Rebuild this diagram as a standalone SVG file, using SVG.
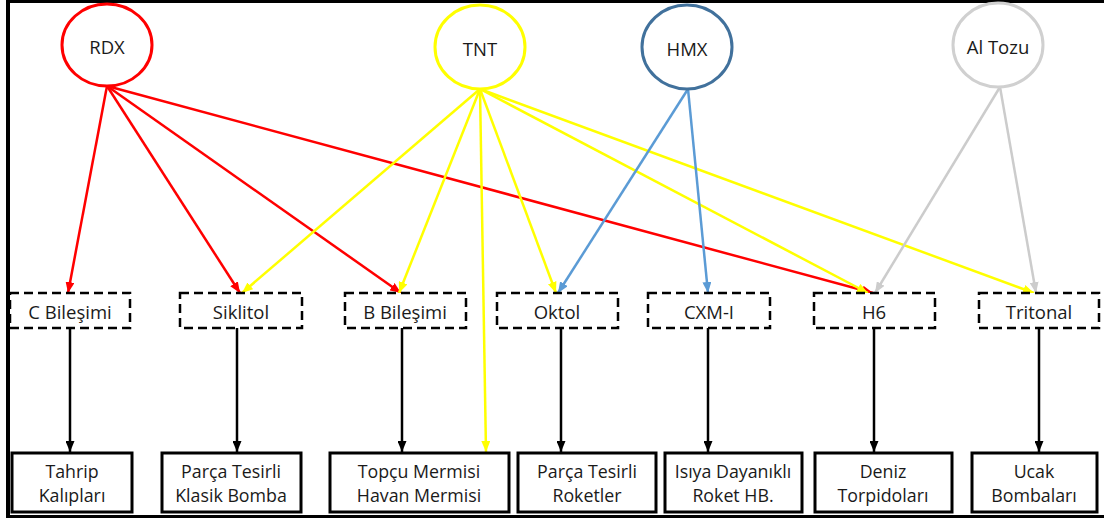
<svg xmlns="http://www.w3.org/2000/svg" width="1104" height="519" viewBox="0 0 1104 519">
<style>
text{font-family:"Open Sans","Liberation Sans",sans-serif;fill:#1a1a1a;text-anchor:middle;dominant-baseline:central}
.c{font-size:18.5px}
.m{font-size:18.5px}
.b{font-size:17.8px}
.dash{fill:#fff;stroke:#000;stroke-width:2.5;stroke-dasharray:9 5}
.solid{fill:#fff;stroke:#000;stroke-width:3}
.circ{fill:#fff;stroke-width:3}
.r{stroke:#ff0000;stroke-width:2.5;fill:none;marker-end:url(#ar)}
.y{stroke:#ffff00;stroke-width:2.5;fill:none;marker-end:url(#ay)}
.u{stroke:#5b9bd5;stroke-width:2.5;fill:none;marker-end:url(#au)}
.g{stroke:#cccccc;stroke-width:2.5;fill:none;marker-end:url(#ag)}
.k{stroke:#000;stroke-width:2.5;fill:none;marker-end:url(#ak)}
</style>
<defs>
<marker id="ar" markerUnits="userSpaceOnUse" markerWidth="11" markerHeight="9" refX="11" refY="4.5" orient="auto"><path d="M0,0 L11,4.5 L0,9 z" fill="#ff0000"/></marker>
<marker id="ay" markerUnits="userSpaceOnUse" markerWidth="11" markerHeight="9" refX="11" refY="4.5" orient="auto"><path d="M0,0 L11,4.5 L0,9 z" fill="#ffff00"/></marker>
<marker id="au" markerUnits="userSpaceOnUse" markerWidth="11" markerHeight="9" refX="11" refY="4.5" orient="auto"><path d="M0,0 L11,4.5 L0,9 z" fill="#5b9bd5"/></marker>
<marker id="ag" markerUnits="userSpaceOnUse" markerWidth="11" markerHeight="9" refX="11" refY="4.5" orient="auto"><path d="M0,0 L11,4.5 L0,9 z" fill="#cccccc"/></marker>
<marker id="ak" markerUnits="userSpaceOnUse" markerWidth="11" markerHeight="9" refX="11" refY="4.5" orient="auto"><path d="M0,0 L11,4.5 L0,9 z" fill="#000"/></marker>
</defs>
<rect width="1104" height="519" fill="#fff"/>
<g id="frame" stroke="#000" fill="none">
<line x1="8" y1="0" x2="8" y2="518" stroke-width="4"/>
<line x1="6" y1="1.5" x2="1104" y2="1.5" stroke-width="3"/>
<line x1="6" y1="516.5" x2="1104" y2="516.5" stroke-width="3"/>
</g>
<g id="connectors">
<line class="r" x1="107" y1="86" x2="68" y2="293"/>
<line class="r" x1="107" y1="86" x2="240" y2="293"/>
<line class="r" x1="107" y1="86" x2="401" y2="293"/>
<line class="r" x1="107" y1="86" x2="873" y2="293"/>
<line class="y" x1="480" y1="89" x2="242" y2="293"/>
<line class="y" x1="480" y1="89" x2="399" y2="293"/>
<line class="y" x1="480" y1="89" x2="486" y2="452"/>
<line class="y" x1="480" y1="89" x2="556" y2="293"/>
<line class="y" x1="480" y1="89" x2="868" y2="293"/>
<line class="y" x1="480" y1="89" x2="1034" y2="293"/>
<line class="u" x1="688" y1="89" x2="558" y2="293"/>
<line class="u" x1="688" y1="89" x2="708" y2="293"/>
<line class="g" x1="1000" y1="87" x2="875" y2="293"/>
<line class="g" x1="1000" y1="87" x2="1036" y2="293"/>
<line class="k" x1="70" y1="328" x2="70" y2="452"/>
<line class="k" x1="237" y1="328" x2="237" y2="452"/>
<line class="k" x1="402" y1="328" x2="402" y2="452"/>
<line class="k" x1="561" y1="328" x2="561" y2="452"/>
<line class="k" x1="708" y1="328" x2="708" y2="452"/>
<line class="k" x1="874" y1="328" x2="874" y2="452"/>
<line class="k" x1="1039" y1="328" x2="1039" y2="452"/>
</g>
<g id="RDX"><ellipse class="circ" stroke="#ff0000" cx="107" cy="45" rx="45" ry="41"/><text class="c" x="107" y="46">RDX</text></g>
<g id="TNT"><ellipse class="circ" stroke="#ffff00" cx="480" cy="47" rx="45" ry="42"/><text class="c" x="480" y="48">TNT</text></g>
<g id="HMX"><ellipse class="circ" stroke="#41719c" cx="687" cy="47" rx="45" ry="42"/><text class="c" x="687" y="48">HMX</text></g>
<g id="AlTozu"><ellipse class="circ" stroke="#d0d0d0" cx="998" cy="45" rx="45" ry="42"/><text class="c" x="998" y="46">Al Tozu</text></g>
<g id="CBilesimi"><rect class="dash" x="10" y="293" width="120" height="35"/><text class="m" x="70" y="311">C Bileşimi</text></g>
<g id="Siklitol"><rect class="dash" x="180" y="293" width="122" height="35"/><text class="m" x="241" y="311">Siklitol</text></g>
<g id="BBilesimi"><rect class="dash" x="345" y="293" width="121" height="35"/><text class="m" x="405" y="311">B Bileşimi</text></g>
<g id="Oktol"><rect class="dash" x="497" y="293" width="121" height="35"/><text class="m" x="557" y="311">Oktol</text></g>
<g id="CXM"><rect class="dash" x="648" y="293" width="122" height="35"/><text class="m" x="709" y="311">CXM-I</text></g>
<g id="H6"><rect class="dash" x="814" y="293" width="121" height="35"/><text class="m" x="874" y="311">H6</text></g>
<g id="Tritonal"><rect class="dash" x="979" y="293" width="120" height="35"/><text class="m" x="1039" y="311">Tritonal</text></g>
<g id="Tahrip"><rect class="solid" x="12" y="453" width="120" height="59"/><text class="b" x="72" y="470.5">Tahrip</text><text class="b" x="72" y="495">Kalıpları</text></g>
<g id="Klasik"><rect class="solid" x="162" y="453" width="139" height="59"/><text class="b" x="231" y="470.5">Parça Tesirli</text><text class="b" x="231" y="495">Klasik Bomba</text></g>
<g id="Topcu"><rect class="solid" x="330" y="453" width="179" height="59"/><text class="b" x="419" y="470.5">Topçu Mermisi</text><text class="b" x="419" y="495">Havan Mermisi</text></g>
<g id="Roketler"><rect class="solid" x="518" y="453" width="138" height="59"/><text class="b" x="587" y="470.5">Parça Tesirli</text><text class="b" x="587" y="495">Roketler</text></g>
<g id="Isiya"><rect class="solid" x="665" y="453" width="137" height="59"/><text class="b" x="733" y="470.5">Isıya Dayanıklı</text><text class="b" x="733" y="495">Roket HB.</text></g>
<g id="Deniz"><rect class="solid" x="815" y="453" width="137" height="59"/><text class="b" x="883" y="470.5">Deniz</text><text class="b" x="883" y="495">Torpidoları</text></g>
<g id="Ucak"><rect class="solid" x="972" y="453" width="125" height="59"/><text class="b" x="1034" y="470.5">Ucak</text><text class="b" x="1034" y="495">Bombaları</text></g>
</svg>
